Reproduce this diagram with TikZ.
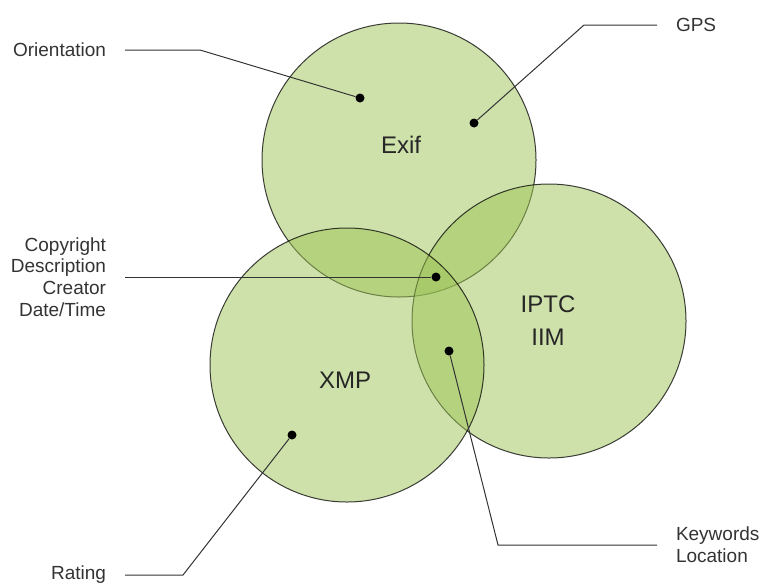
\documentclass[tikz,border=0pt]{standalone}
\usepackage{fontspec}
\setmainfont{Liberation Sans}
\definecolor{vennfill}{RGB}{157,195,85}
\tikzstyle{venn} = [circle, minimum size=274pt, inner sep=0pt, draw=black, draw opacity=0.75, line width=1pt, fill=vennfill, fill opacity=0.5]
\tikzstyle{setname} = [font=\fontsize{24}{33}\selectfont, text=black!85, align=center]
\tikzstyle{tag} = [font=\fontsize{19}{21.7}\selectfont, text=black!80, inner sep=0pt, outer xsep=19pt]
\tikzstyle{spot} = [circle, fill=black, inner sep=0pt, minimum size=9pt]
\tikzstyle{leader} = [line width=1pt, draw=black!80]

\begin{document}
\begin{tikzpicture}[x=1pt, y=-1pt]
\useasboundingbox (0,0) rectangle (759,584);
% the three sets
\node (exif) [venn] at (399,160) {};
\node (iptc) [venn] at (549,321) {};
\node (xmp) [venn] at (347,365) {};
\node (exiftxt) [setname] at (401,145) {Exif};
\node (xmptxt) [setname] at (345,380) {XMP};
\node (iptctxt) [setname] at (548,321) {IPTC\\IIM};
% points
\node (oridot) [spot] at (360,98) {};
\node (gpsdot) [spot] at (474,123) {};
\node (comdot) [spot] at (436,277) {};
\node (kwdot) [spot] at (449,351) {};
\node (ratdot) [spot] at (292,435) {};
% labels
\node (ori) [tag, anchor=east] at (125,50) {Orientation};
\node (gps) [tag, anchor=west] at (657,25) {GPS};
\node (common) [tag, anchor=east, align=right] at (125,277) {Copyright\\Description\\Creator\\Date/Time};
\node (kw) [tag, anchor=west, align=left] at (657,545) {Keywords\\Location};
\node (rating) [tag, anchor=east] at (125,575) {Rating};
\draw [leader] (ori.east) -- ++(75,0) -- (oridot);
\draw [leader] (gps.west) -- ++(-73,0) -- (gpsdot);
\draw [leader] (common.east) -- (comdot);
\draw [leader] (kw.west) -- ++(-159,0) -- (kwdot);
\draw [leader] (rating.east) -- ++(58,0) -- (ratdot);
\end{tikzpicture}
\end{document}
